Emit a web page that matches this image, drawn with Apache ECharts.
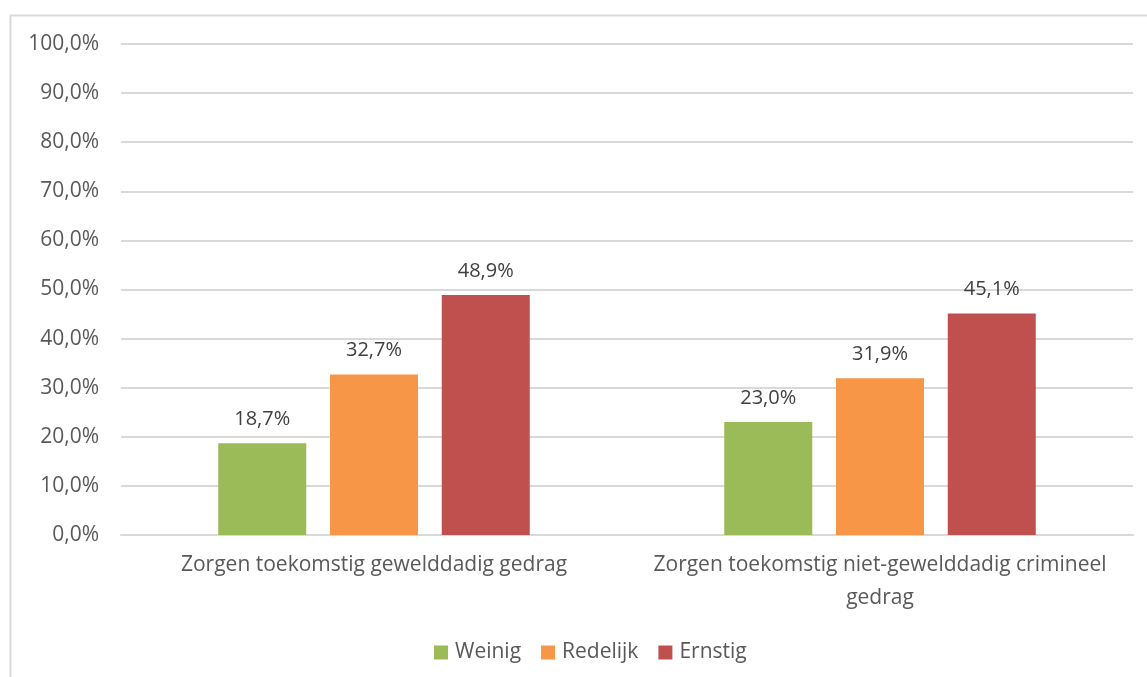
<!DOCTYPE html>
<html>
<head>
<meta charset="utf-8">
<script src="https://cdn.jsdelivr.net/npm/echarts@6/dist/echarts.min.js"></script>
<style>
  html, body { margin: 0; padding: 0; background: #fff; }
  #divChart { width: 1147px; height: 677px; }
</style>
</head>
<body>
<div id="divChart"></div>
<script>
var categories = ['Zorgen toekomstig gewelddadig gedrag', 'Zorgen toekomstig niet-gewelddadig crimineel\ngedrag'];
var weinig = [18.7, 23.0];
var redelijk = [32.7, 31.9];
var ernstig = [48.9, 45.1];
var seriesNames = ['Weinig', 'Redelijk', 'Ernstig'];
var colors = ['#9BBB59', '#F79646', '#C0504D'];

var myChart = echarts.init(document.getElementById('divChart'));

function pct(v) {
    return v.toFixed(1).replace('.', ',') + '%';
}

function buildSeries() {
    var values = [weinig, redelijk, ernstig];
    var result = [];
    for (var i = 0; i < values.length; i++) {
        result.push({
            name: seriesNames[i],
            type: 'bar',
            data: values[i],
            barWidth: 88,
            barGap: '27%',
            itemStyle: { color: colors[i] },
            label: {
                show: true,
                position: 'top',
                distance: 14,
                color: '#404040',
                fontFamily: 'Open Sans',
                fontSize: 20,
                formatter: function (p) { return pct(p.value); }
            }
        });
    }
    return result;
}

var option = {
    textStyle: { fontFamily: 'Open Sans' },
    graphic: [{
        type: 'rect',
        shape: { x: 10.5, y: 15.5, width: 1150, height: 680 },
        style: { fill: 'none', stroke: '#d9d9d9', lineWidth: 2 },
        silent: true
    }],
    legend: {
        data: seriesNames,
        top: 637,
        left: 429,
        itemWidth: 14,
        itemHeight: 14,
        itemGap: 20,
        icon: 'rect',
        textStyle: { color: '#595959', fontSize: 21, fontFamily: 'Open Sans', padding: [0, 0, 0, 2] }
    },
    grid: { left: 121, right: 14, top: 44, bottom: 142 },
    xAxis: {
        type: 'category',
        data: categories,
        axisLine: { lineStyle: { color: '#d9d9d9', width: 2 } },
        axisTick: { show: false },
        axisLabel: {
            color: '#595959',
            fontSize: 21,
            fontFamily: 'Open Sans',
            margin: 14,
            lineHeight: 33,
            interval: 0
        }
    },
    yAxis: {
        type: 'value',
        min: 0,
        max: 100,
        interval: 10,
        axisLine: { show: false },
        axisTick: { show: false },
        splitLine: { lineStyle: { color: '#d9d9d9', width: 2 } },
        axisLabel: {
            color: '#595959',
            fontSize: 21,
            fontFamily: 'Open Sans',
            margin: 22,
            formatter: function (v) { return pct(v); }
        }
    },
    series: buildSeries()
};
myChart.setOption(option);
</script>
</body>
</html>
